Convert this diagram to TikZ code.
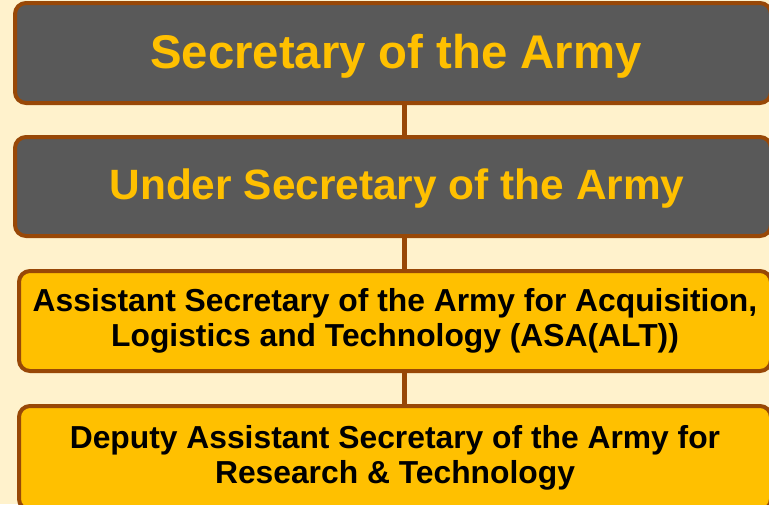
\documentclass[tikz,border=0pt]{standalone}
\usepackage{fontspec}
\setmainfont{Liberation Sans}
\definecolor{bgc}{HTML}{FFF2CC}
\definecolor{edgec}{HTML}{984807}
\definecolor{darkc}{HTML}{595959}
\definecolor{goldc}{HTML}{FFC000}
\begin{document}
\begin{tikzpicture}[x=1pt,y=-1pt,
  orgbox/.style={rectangle, rounded corners=11pt, draw=edgec, line width=4pt, align=center, inner sep=0pt, font=\bfseries},
  topbox/.style={orgbox, fill=darkc, text=goldc},
  lowbox/.style={orgbox, fill=goldc, text=black, font=\bfseries\fontsize{31.8}{35.5}\selectfont},
  link/.style={draw=edgec, line width=5pt}]
\fill[bgc] (0,0) rectangle (769,504);
\useasboundingbox (0,0) rectangle (769,504);
\coordinate (spine) at (404,0);
\node[topbox, minimum width=756pt, minimum height=100pt, font=\bfseries\fontsize{47.3}{52}\selectfont] (b1) at (393,53) {\hspace*{6pt}\raisebox{-3pt}[\height][\depth]{Secretary of the Army}};
\node[topbox, minimum width=756pt, minimum height=99pt, font=\bfseries\fontsize{42.4}{48}\selectfont] (b2) at (393,186.5) {\hspace*{8pt}\raisebox{-2pt}[\height][\depth]{Under Secretary of the Army}};
\node[lowbox, minimum width=752pt, minimum height=100pt] (b3) at (395,321) {Assistant Secretary of the Army for Acquisition,\\Logistics and Technology (ASA(ALT))};
\node[lowbox, minimum width=752pt, minimum height=104pt] (b4) at (395,458) {Deputy Assistant Secretary of the Army for\\Research \& Technology};
\draw[link] (b1.south -| spine) -- (b2.north -| spine);
\draw[link] (b2.south -| spine) -- (b3.north -| spine);
\draw[link] (b3.south -| spine) -- (b4.north -| spine);
\end{tikzpicture}
\end{document}
